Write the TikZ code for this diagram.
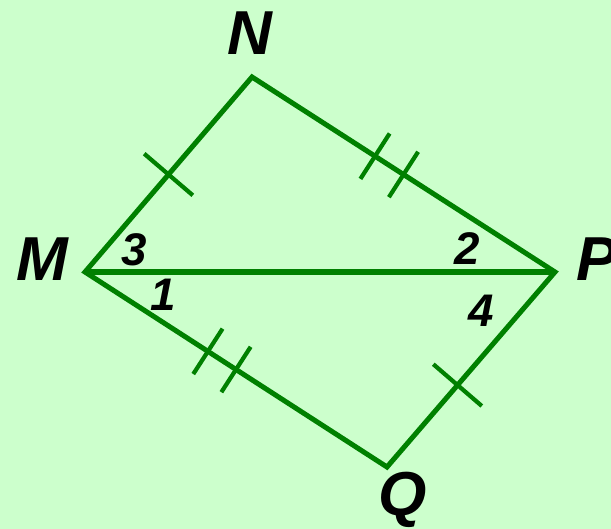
\documentclass[tikz,border=0pt]{standalone}
\usepackage{fontspec}
\setmainfont{Liberation Sans}
\usetikzlibrary{calc}
\definecolor{bgGreen}{HTML}{CCFFCC}
\definecolor{lineGreen}{HTML}{008000}

\begin{document}
\begin{tikzpicture}[
  x=0.03cm, y=-0.03cm,
  side/.style={draw=lineGreen, line width=4.3pt, line cap=butt, line join=miter},
  tickmark/.style={draw=lineGreen, line width=3.6pt},
  vertex/.style={inner sep=0pt, font=\fontsize{53}{60}\selectfont\bfseries\itshape},
  angnum/.style={inner sep=0pt, font=\fontsize{39}{44}\selectfont\bfseries\itshape}
]
  % background
  \fill[bgGreen] (0,0) rectangle (611,529);
  \useasboundingbox (0,0) rectangle (611,529);

  % vertices
  \coordinate (M) at (85,272);
  \coordinate (N) at (252,77);
  \coordinate (P) at (555,272);
  \coordinate (Q) at (387,467);

  \draw[side] (M) -- (N) -- (P) -- (Q) -- cycle;
  \draw[side] (M) -- (P);

  % tick marks
  \coordinate (t1) at ($(M)!0.5!(N)$);
  \coordinate (t2) at ($(N)!0.406!(P)$);
  \coordinate (t3) at ($(N)!0.5!(P)$);
  \coordinate (t4) at ($(M)!0.407!(Q)$);
  \coordinate (t5) at ($(M)!0.5!(Q)$);
  \coordinate (t6) at ($(Q)!0.42!(P)$);
  \draw[tickmark] ($(t1)!0.96cm!90:(N)$) -- ($(t1)!0.96cm!-90:(N)$);
  \draw[tickmark] ($(t2)!0.81cm!90:(P)$) -- ($(t2)!0.81cm!-90:(P)$);
  \draw[tickmark] ($(t3)!0.81cm!90:(P)$) -- ($(t3)!0.81cm!-90:(P)$);
  \draw[tickmark] ($(t4)!0.81cm!90:(Q)$) -- ($(t4)!0.81cm!-90:(Q)$);
  \draw[tickmark] ($(t5)!0.81cm!90:(Q)$) -- ($(t5)!0.81cm!-90:(Q)$);
  \draw[tickmark] ($(t6)!0.96cm!90:(P)$) -- ($(t6)!0.96cm!-90:(P)$);

  % labels
  \node[vertex] (labN) at (250,33) {N};
  \node[vertex] (labM) at (42,259) {M};
  \node[vertex] (labP) at (597,259) {P};
  \node[vertex] (labQ) at (403,500) {Q};

  \node[angnum] (a3) at (134,250) {3};
  \node[angnum] (a2) at (467,249) {2};
  \node[angnum] (a1) at (163,295) {1};
  \node[angnum] (a4) at (481,311) {4};
\end{tikzpicture}
\end{document}
